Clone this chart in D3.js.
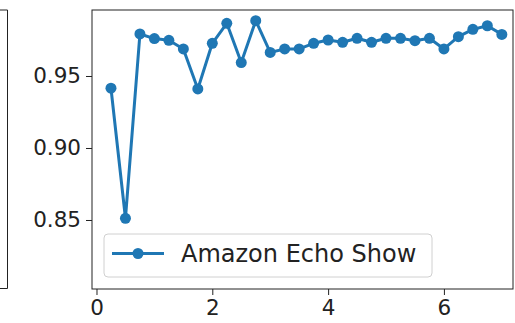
<!DOCTYPE html>
<html>
<head>
<meta charset="utf-8">
<script src="https://cdn.jsdelivr.net/npm/d3@7"></script>
<style>
  html, body { margin: 0; padding: 0; background: #fff; }
  svg { display: block; }
</style>
</head>
<body>
<svg id="chart" width="515" height="323"></svg>
<script>
// ---- data ----
const xValues = [0.25,0.5,0.75,1.0,1.25,1.5,1.75,2.0,2.25,2.5,2.75,3.0,3.25,3.5,3.75,4.0,4.25,4.5,4.75,5.0,5.25,5.5,5.75,6.0,6.25,6.5,6.75,7.0];
const yValues = [0.9415,0.8512,0.9792,0.9760,0.9748,0.9688,0.9410,0.9727,0.9866,0.9593,0.9884,0.9664,0.9688,0.9688,0.9727,0.9750,0.9734,0.9762,0.9734,0.9762,0.9762,0.9745,0.9762,0.9688,0.9773,0.9824,0.9849,0.9789];
const seriesName = "Amazon Echo Show";
const xTicks = [0, 2, 4, 6];
const yTicks = [0.85, 0.90, 0.95];
const yTickLabels = ["0.85", "0.90", "0.95"];

const color = "#1f77b4";
const svg = d3.select("#chart");
const L = 92, R = 513, T = 10, B = 289;

const x = d3.scaleLinear().domain([-0.0777, 7.193]).range([L, R]);
const y = d3.scaleLinear().domain([0.80208, 0.99583]).range([B, T]);

// left neighbouring panel edge
svg.append("path")
  .attr("d", `M-5,${T}H7.5V${B - 0.5}H-5`)
  .attr("fill", "none").attr("stroke", "#222").attr("stroke-width", 1);

// axes
const fontFam = "DejaVu Sans, sans-serif";
const xAxis = svg.append("g").attr("transform", `translate(0,${B})`)
  .call(d3.axisBottom(x).tickValues(xTicks).tickSize(6).tickPadding(5).tickFormat(d3.format("d")));
const yAxis = svg.append("g").attr("transform", `translate(${L},0)`)
  .call(d3.axisLeft(y).tickValues(yTicks).tickSize(6).tickPadding(5).tickFormat((d, i) => yTickLabels[i]));
[xAxis, yAxis].forEach(g => {
  g.select(".domain").remove();
  g.selectAll(".tick line").attr("stroke", "#222").attr("stroke-width", 1);
  g.selectAll(".tick text").attr("fill", "#222").style("font-family", fontFam).style("font-size", "21.5px");
});

// frame
svg.append("rect").attr("x", L).attr("y", T).attr("width", R - L).attr("height", B - T)
  .attr("fill", "none").attr("stroke", "#222").attr("stroke-width", 1);

// line + markers
const data = xValues.map((d, i) => [d, yValues[i]]);
svg.append("path").datum(data)
  .attr("d", d3.line().x(d => x(d[0])).y(d => y(d[1])))
  .attr("fill", "none").attr("stroke", color).attr("stroke-width", 3).attr("stroke-linejoin", "round");
svg.append("g").selectAll("circle").data(data).join("circle")
  .attr("cx", d => x(d[0])).attr("cy", d => y(d[1])).attr("r", 5.5).attr("fill", color);

// legend
const lg = svg.append("g");
lg.append("rect").attr("x", 104).attr("y", 234).attr("width", 328).attr("height", 43)
  .attr("rx", 4).attr("fill", "#fff").attr("fill-opacity", 0.8).attr("stroke", "#d0d0d0");
lg.append("line").attr("x1", 112).attr("x2", 164).attr("y1", 253.5).attr("y2", 253.5)
  .attr("stroke", color).attr("stroke-width", 3);
lg.append("circle").attr("cx", 138).attr("cy", 253.5).attr("r", 5.5).attr("fill", color);
lg.append("text").attr("x", 181).attr("y", 262).text(seriesName)
  .attr("fill", "#222").style("font-family", fontFam).style("font-size", "24px");
</script>
</body>
</html>
